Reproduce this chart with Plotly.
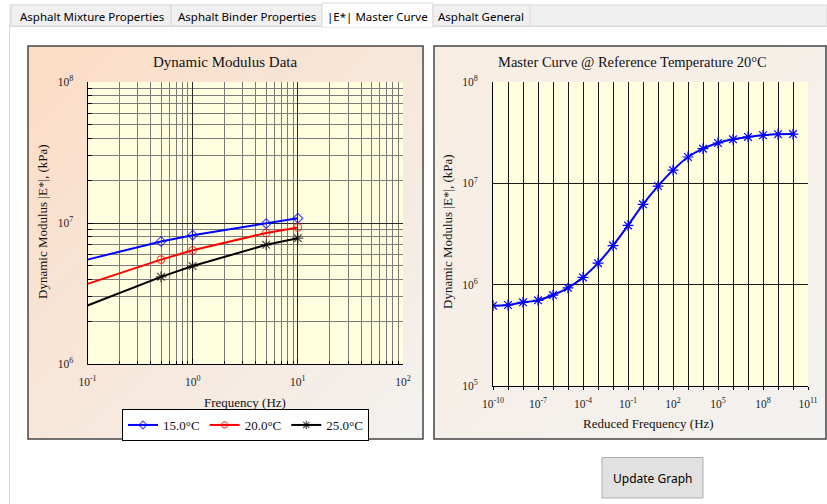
import base64
import plotly.graph_objects as go

W, H = 827, 504


def px(x):
    return x / W


def py(y):
    return 1 - y / H


# ---------------- data ----------------
freq_hz = [0.1, 0.5, 1, 5, 10]
modulus_15c = [5.5e6, 7.4e6, 8.2e6, 9.9e6, 1.08e7]
modulus_20c = [3.7e6, 5.5e6, 6.4e6, 8.5e6, 9.3e6]
modulus_25c = [2.6e6, 4.15e6, 4.95e6, 7.0e6, 7.8e6]
series_names = ["15.0°C", "20.0°C", "25.0°C"]

reduced_freq = [1e-10, 1e-9, 1e-8, 1e-7, 1e-6, 1e-5, 1e-4, 1e-3, 1e-2, 1e-1,
                1e0, 1e1, 1e2, 1e3, 1e4, 1e5, 1e6, 1e7, 1e8, 1e9, 1e10]
master_modulus = [6.2e5, 6.3e5, 6.7e5, 7.0e5, 7.9e5, 9.3e5, 1.18e6, 1.63e6,
                  2.43e6, 3.84e6, 6.2e6, 9.4e6, 1.35e7, 1.82e7, 2.2e7, 2.5e7,
                  2.72e7, 2.87e7, 2.98e7, 3.05e7, 3.06e7]

tab_labels = ["Asphalt Mixture Properties", "Asphalt Binder Properties",
              "|E*| Master Curve", "Asphalt General"]

SERIF = "Liberation Serif"
UI = "Noto Sans"

fig = go.Figure()

# left chart traces
first_hidden = [0, 7.5, 7.5, 7.5, 7.5]
fig.add_trace(go.Scatter(
    x=freq_hz, y=modulus_15c, name=series_names[0], mode="lines+markers",
    line=dict(color="#0000ff", width=2),
    marker=dict(symbol="diamond-open", size=first_hidden, color="#0000ff",
                line=dict(width=1.2, color="#0000ff")),
    xaxis="x", yaxis="y"))
fig.add_trace(go.Scatter(
    x=freq_hz, y=modulus_20c, name=series_names[1], mode="lines+markers",
    line=dict(color="#ff0000", width=2),
    marker=dict(symbol="circle-open", size=first_hidden, color="#ff0000",
                line=dict(width=1.2, color="#ff0000")),
    xaxis="x", yaxis="y"))
fig.add_trace(go.Scatter(
    x=freq_hz, y=modulus_25c, name=series_names[2], mode="lines+markers",
    line=dict(color="#000000", width=2),
    marker=dict(symbol="asterisk-open", size=[0, 9, 9, 9, 9], color="#000000",
                line=dict(width=1.2, color="#000000")),
    xaxis="x", yaxis="y"))

# right chart trace
fig.add_trace(go.Scatter(
    x=reduced_freq, y=master_modulus, mode="lines+markers", showlegend=False,
    line=dict(color="#0000ff", width=2, shape="spline"),
    marker=dict(symbol="asterisk-open", size=9, color="#0000ff",
                line=dict(width=1.2, color="#3030ff")),
    xaxis="x2", yaxis="y2"))


def sup(e):
    return f"10<sup>{e}</sup>"


tickfont = dict(family=SERIF, size=11.5, color="#222222")

left_x_minor = [0.2, 0.3, 0.4, 0.5, 0.6, 0.7, 0.8, 0.9,
                2, 3, 4, 5, 6, 7, 8, 9,
                20, 30, 40, 50, 60, 70, 80, 90]
left_y_minor = [2e6, 3e6, 4e6, 5e6, 6e6, 7e6, 8e6, 9e6,
                2e7, 3e7, 4e7, 5e7, 6e7, 7e7, 8e7, 9e7]

right_x_major_exps = [-10, -7, -4, -1, 2, 5, 8, 11]
right_x_minor_exps = [-9, -8, -6, -5, -3, -2, 0, 1, 3, 4, 6, 7, 9, 10]
right_x_vals = [10.0 ** e for e in right_x_major_exps]
right_x_text = [sup(e) for e in right_x_major_exps]
right_x_minor = [10.0 ** e for e in right_x_minor_exps]

fig.update_layout(
    width=W, height=H, autosize=False,
    margin=dict(l=0, r=0, t=0, b=0, pad=0, autoexpand=False),
    paper_bgcolor="#ffffff", plot_bgcolor="rgba(0,0,0,0)",
    xaxis=dict(
        type="log", range=[-1, 2], domain=[px(87.5), px(403)], anchor="y",
        tickvals=[0.1, 1, 10, 100], ticktext=[sup(-1), sup(0), sup(1), sup(2)],
        showgrid=True, gridcolor="#2a2a2a", gridwidth=1.2,
        ticks="inside", ticklen=5, tickcolor="#000",
        showline=True, linecolor="#000", linewidth=1, zeroline=False,
        minor=dict(tickvals=left_x_minor, showgrid=True, gridcolor="#7a7a7a",
                   gridwidth=1.2, ticks="inside", ticklen=3, tickcolor="#000"),
        tickfont=tickfont, ticklabelstandoff=7, fixedrange=True, automargin=False),
    yaxis=dict(
        type="log", range=[6, 8], domain=[py(364), py(82)], anchor="x",
        tickvals=[1e6, 1e7, 1e8], ticktext=[sup(6), sup(7), sup(8)],
        showgrid=True, gridcolor="#2a2a2a", gridwidth=1.2,
        ticks="inside", ticklen=5, tickcolor="#000",
        showline=True, linecolor="#000", linewidth=1, zeroline=False,
        minor=dict(tickvals=left_y_minor, showgrid=True, gridcolor="#7a7a7a",
                   gridwidth=1.2, ticks="inside", ticklen=4, tickcolor="#000"),
        tickfont=tickfont, ticklabelstandoff=11, fixedrange=True, automargin=False),
    xaxis2=dict(
        type="log", range=[-10, 11], domain=[px(493), px(808)], anchor="y2",
        tickmode="array", tickvals=right_x_vals, ticktext=right_x_text,
        showgrid=True, gridcolor="#1a1a1a", gridwidth=1.2,
        ticks="outside", ticklen=3, tickcolor="#000",
        showline=True, linecolor="#000", linewidth=1, zeroline=False,
        minor=dict(tickvals=right_x_minor, showgrid=True, gridcolor="#1a1a1a",
                   gridwidth=1.2, ticks="outside", ticklen=3, tickcolor="#000"),
        tickfont=tickfont, ticklabelstandoff=4, fixedrange=True, automargin=False),
    yaxis2=dict(
        type="log", range=[5, 8], domain=[py(386), py(82)], anchor="x2",
        tickvals=[1e5, 1e6, 1e7, 1e8], ticktext=[sup(5), sup(6), sup(7), sup(8)],
        showgrid=True, gridcolor="#1a1a1a", gridwidth=1.2,
        ticks="", showline=True, linecolor="#000", linewidth=1, zeroline=False,
        tickfont=tickfont, ticklabelstandoff=12, fixedrange=True, automargin=False),
    legend=dict(
        orientation="h", x=px(245.5), xanchor="center", y=py(425), yanchor="middle",
        bgcolor="#ffffff", bordercolor="#000000", borderwidth=1,
        font=dict(family=SERIF, size=13, color="#111111"),
        itemwidth=30, tracegroupgap=0),
    showlegend=True,
)


# ---------- gradient panel backgrounds ----------
def gradient_uri(c1, c2):
    svg = ('<svg xmlns="http://www.w3.org/2000/svg" width="200" height="200" '
           'preserveAspectRatio="none"><defs><linearGradient id="g" x1="0" y1="0" '
           f'x2="1" y2="1"><stop offset="0" stop-color="{c1}"/>'
           f'<stop offset="1" stop-color="{c2}"/></linearGradient></defs>'
           '<rect width="200" height="200" fill="url(#g)"/></svg>')
    return "data:image/svg+xml;base64," + base64.b64encode(svg.encode()).decode()


panels = [(28, 46, 423, 439, "#fcdcc4", "#f3f2f0"),
          (434, 46, 826, 439, "#f8ede2", "#f3f2f0")]
images = []
for x0, y0, x1, y1, c1, c2 in panels:
    images.append(dict(
        source=gradient_uri(c1, c2), xref="paper", yref="paper",
        x=px(x0), y=py(y0), sizex=(x1 - x0) / W, sizey=(y1 - y0) / H,
        xanchor="left", yanchor="top", sizing="stretch", layer="below"))
fig.update_layout(images=images)

shapes = []
# tab header band
shapes.append(dict(type="rect", xref="paper", yref="paper",
                   x0=px(10), x1=px(827), y0=py(26), y1=py(5),
                   fillcolor="#f0f0f0", line=dict(color="#dadada", width=1), layer="below"))
# content area borders
shapes.append(dict(type="line", xref="paper", yref="paper",
                   x0=px(9.5), x1=px(9.5), y0=py(26), y1=py(504),
                   line=dict(color="#d9d9d9", width=1), layer="below"))
shapes.append(dict(type="line", xref="paper", yref="paper",
                   x0=px(9.5), x1=px(827), y0=py(26.5), y1=py(26.5),
                   line=dict(color="#d9d9d9", width=1), layer="below"))
# tabs
tab_edges = [(11, 171), (171, 322), (322, 433), (433, 530)]
for i, (a, b) in enumerate(tab_edges):
    if i == 2:
        shapes.append(dict(type="rect", xref="paper", yref="paper",
                           x0=px(a), x1=px(b), y0=py(27.5), y1=py(3),
                           fillcolor="#ffffff", line=dict(color="#d9d9d9", width=1),
                           layer="below"))
    else:
        shapes.append(dict(type="rect", xref="paper", yref="paper",
                           x0=px(a), x1=px(b), y0=py(26), y1=py(5),
                           fillcolor="#f0f0f0", line=dict(color="#d9d9d9", width=1),
                           layer="below"))
# cover the border under the selected tab
shapes.append(dict(type="line", xref="paper", yref="paper",
                   x0=px(322.5), x1=px(432.5), y0=py(26.5), y1=py(26.5),
                   line=dict(color="#ffffff", width=2), layer="below"))
# plot area backgrounds
shapes.append(dict(type="rect", xref="paper", yref="paper",
                   x0=px(87.5), x1=px(403), y0=py(364), y1=py(82),
                   fillcolor="#ffffe0", line=dict(width=0), layer="below"))
shapes.append(dict(type="rect", xref="paper", yref="paper",
                   x0=px(493), x1=px(808), y0=py(386), y1=py(82),
                   fillcolor="#ffffe0", line=dict(width=0), layer="below"))
# panel borders
for x0, y0, x1, y1, _, _ in panels:
    shapes.append(dict(type="rect", xref="paper", yref="paper",
                       x0=px(x0), x1=px(x1), y0=py(y1), y1=py(y0),
                       fillcolor="rgba(0,0,0,0)", line=dict(color="#454545", width=1.5),
                       layer="above"))
# button
shapes.append(dict(type="rect", xref="paper", yref="paper",
                   x0=px(602), x1=px(703), y0=py(498), y1=py(457.5),
                   fillcolor="#e1e1e1", line=dict(color="#adadad", width=1), layer="below"))
fig.update_layout(shapes=shapes)

annotations = []
tab_centers = [92, 247, 377, 481]
for lbl, cx in zip(tab_labels, tab_centers):
    annotations.append(dict(text=lbl, xref="paper", yref="paper", x=px(cx), y=py(16),
                            xanchor="center", yanchor="middle", showarrow=False,
                            font=dict(family=UI, size=11.5, color="#000000")))
annotations.append(dict(text="Update Graph", xref="paper", yref="paper",
                        x=px(652.5), y=py(478), xanchor="center", yanchor="middle",
                        showarrow=False, font=dict(family=UI, size=12, color="#000000")))
# chart titles
annotations.append(dict(text="Dynamic Modulus Data", xref="paper", yref="paper",
                        x=px(225), y=py(62), xanchor="center", yanchor="middle",
                        showarrow=False, font=dict(family=SERIF, size=15, color="#111111")))
annotations.append(dict(text="Master Curve @ Reference Temperature 20°C", xref="paper",
                        yref="paper", x=px(632), y=py(62), xanchor="center",
                        yanchor="middle", showarrow=False,
                        font=dict(family=SERIF, size=14.5, color="#111111")))
# axis titles
annotations.append(dict(text="Frequency (Hz)", xref="paper", yref="paper",
                        x=px(245), y=py(402), xanchor="center", yanchor="middle",
                        showarrow=False, font=dict(family=SERIF, size=13, color="#111111")))
annotations.append(dict(text="Reduced Frequency (Hz)", xref="paper", yref="paper",
                        x=px(648), y=py(423), xanchor="center", yanchor="middle",
                        showarrow=False, font=dict(family=SERIF, size=13, color="#111111")))
annotations.append(dict(text="Dynamic Modulus |E*|, (kPa)", xref="paper", yref="paper",
                        x=px(42), y=py(222), xanchor="center", yanchor="middle",
                        textangle=-90, showarrow=False,
                        font=dict(family=SERIF, size=13, color="#111111")))
annotations.append(dict(text="Dynamic Modulus |E*|, (kPa)", xref="paper", yref="paper",
                        x=px(448), y=py(232), xanchor="center", yanchor="middle",
                        textangle=-90, showarrow=False,
                        font=dict(family=SERIF, size=13, color="#111111")))
fig.update_layout(annotations=annotations)

fig.write_html("out.html", config={"displayModeBar": False},
               post_script="document.body.style.margin='0';")
